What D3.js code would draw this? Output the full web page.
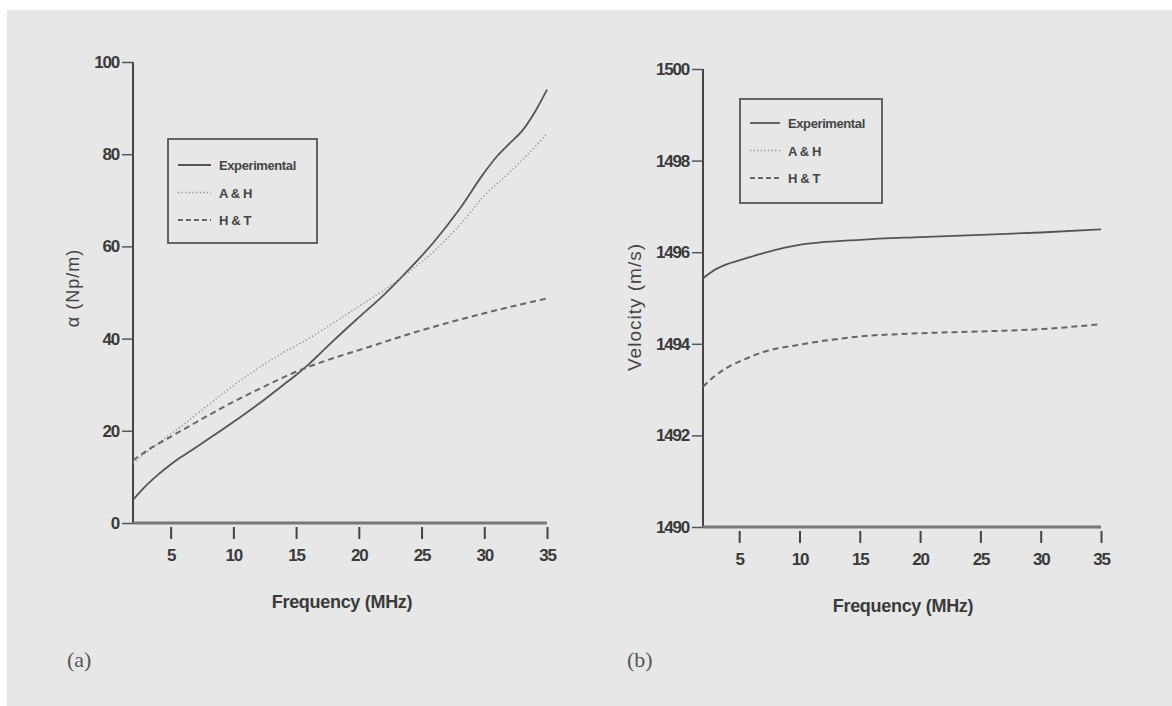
<!DOCTYPE html>
<html>
<head>
<meta charset="utf-8">
<script src="https://cdn.jsdelivr.net/npm/d3@7"></script>
<style>
  body { margin: 0; background: #fff; }
  svg text { font-family: "Liberation Sans", Arial, sans-serif; }
</style>
</head>
<body>
<div id="chart"></div>
<script>
// frequency axis ticks (MHz)
let freqTicks = [5, 10, 15, 20, 25, 30, 35];
let alphaTicks = [0, 20, 40, 60, 80, 100];
let velTicks = [1490, 1492, 1494, 1496, 1498, 1500];
let seriesNames = ["Experimental", "A & H", "H & T"];

// (a) attenuation, Np/m
let alphaFreq = [2, 3, 4, 5, 6, 7, 8, 10, 12, 14, 15, 16, 17, 18, 20, 22, 24, 26, 28, 30, 31, 32, 33, 34, 35];
let alphaExp = [5, 8, 10.5, 12.7, 14.6, 16.4, 18.2, 21.9, 25.8, 30, 32.1, 34.4, 37, 39.6, 44.6, 49.5, 55, 61, 68, 76, 79.5, 82.3, 85, 89, 94];
let ahFreq = [2, 4, 6, 8, 10, 12, 14, 16, 18, 20, 22, 24, 26, 28, 30, 32, 34, 35];
let alphaAH = [13, 17.3, 21.3, 25.6, 29.8, 33.6, 37, 40, 43.5, 47, 50.5, 54.5, 59, 64.5, 71, 76, 81.5, 84.5];
let htFreq = [2, 3, 5, 7, 10, 12, 15, 18, 20, 25, 30, 35];
let alphaHT = [13.6, 15.5, 18.7, 21.8, 26.3, 29, 32.8, 35.8, 37.5, 41.8, 45.5, 48.7];

// (b) velocity, m/s
let velFreq = [2, 3, 4, 5, 7, 10, 15, 20, 25, 30, 35];
let velExp = [1495.43, 1495.62, 1495.74, 1495.82, 1495.98, 1496.16, 1496.27, 1496.33, 1496.38, 1496.43, 1496.5];
let velHT = [1493.06, 1493.3, 1493.48, 1493.61, 1493.82, 1493.98, 1494.16, 1494.23, 1494.27, 1494.32, 1494.43];

let svg = d3.select("#chart")
    .append("svg")
    .attr("width", 1172)
    .attr("height", 706);

svg.append("rect")
    .attr("x", 7).attr("y", 10)
    .attr("width", 1165).attr("height", 696)
    .attr("fill", "#e7e7e7");

let styles = {
    "Experimental": { dash: null, width: 1.8, color: "#555" },
    "A & H": { dash: "1.2,2.4", width: 1.4, color: "#8a8a8a" },
    "H & T": { dash: "6,4", width: 2, color: "#666" }
};

function drawPanel(p) {
    let x = d3.scaleLinear().domain([2, 35]).range([p.left, p.right]);
    let y = d3.scaleLinear().domain(p.yDomain).range([p.bottom, p.top]);

    // y axis
    let yAxis = svg.append("g")
        .attr("transform", `translate(${p.left},0)`)
        .call(d3.axisLeft(y).tickValues(p.yTicks).tickFormat(d3.format("d")).tickSize(11).tickPadding(3));
    yAxis.select(".domain").attr("stroke", "#444").attr("stroke-width", 2)
        .attr("d", `M0,${p.top}V${p.bottom}`);
    yAxis.selectAll(".tick line").attr("stroke", "#555").attr("stroke-width", 1.5);
    yAxis.selectAll("text")
        .attr("fill", "#3a3a3a")
        .style("font-size", "17px")
        .style("font-weight", "bold")
        .style("letter-spacing", "-1.2px");

    // x axis
    let xAxis = svg.append("g")
        .attr("transform", `translate(0,${p.bottom})`)
        .call(d3.axisBottom(x).tickValues(freqTicks).tickSize(16).tickPadding(10));
    xAxis.select(".domain").attr("stroke", "#777").attr("stroke-width", 3)
        .attr("d", `M${p.left},0H${p.right}`);
    xAxis.selectAll(".tick line").attr("stroke", "#444").attr("stroke-width", 2)
        .attr("y1", 4);
    xAxis.selectAll("text")
        .attr("fill", "#3a3a3a")
        .style("font-size", "17px")
        .style("font-weight", "bold")
        .style("letter-spacing", "-1.2px");

    svg.append("text")
        .attr("x", (p.left + p.right) / 2 + p.xLabelShift)
        .attr("y", p.bottom + 85)
        .attr("text-anchor", "middle")
        .attr("fill", "#3a3a3a")
        .style("font-size", "18px")
        .style("font-weight", "bold")
        .style("letter-spacing", "-0.3px")
        .text("Frequency (MHz)");

    svg.append("text")
        .attr("transform", `translate(${p.yLabelX},${p.yLabelY}) rotate(-90)`)
        .attr("text-anchor", "middle")
        .attr("fill", "#444")
        .style("font-size", p.yLabelSize)
        .style("letter-spacing", "1px")
        .text(p.yLabel);

    // curves
    p.series.forEach(s => {
        let st = styles[s.name];
        let line = d3.line()
            .x((d, i) => x(s.x[i]))
            .y(d => y(d))
            .curve(d3.curveMonotoneX);
        svg.append("path")
            .datum(s.y)
            .attr("d", line)
            .attr("fill", "none")
            .attr("stroke", st.color)
            .attr("stroke-width", st.width)
            .attr("stroke-dasharray", st.dash);
    });

    // legend
    let lg = p.legend;
    svg.append("rect")
        .attr("x", lg.x).attr("y", lg.y)
        .attr("width", lg.w).attr("height", lg.h)
        .attr("fill", "none")
        .attr("stroke", "#555")
        .attr("stroke-width", 1.8);
    seriesNames.forEach((n, i) => {
        let st = styles[n];
        let ly = lg.y + lg.first + i * lg.step;
        svg.append("line")
            .attr("x1", lg.x + lg.lineX).attr("x2", lg.x + lg.lineX + lg.lineW)
            .attr("y1", ly).attr("y2", ly)
            .attr("stroke", st.color)
            .attr("stroke-width", st.width)
            .attr("stroke-dasharray", n == "H & T" ? "5,3" : st.dash);
        svg.append("text")
            .attr("x", lg.x + lg.textX)
            .attr("y", ly + 5)
            .attr("fill", "#444")
            .style("font-size", "13px")
            .style("font-weight", "bold")
            .style("letter-spacing", "-0.4px")
            .text(n);
    });

    svg.append("text")
        .attr("x", p.tagX)
        .attr("y", 667)
        .attr("fill", "#555")
        .style("font-family", "'Liberation Serif', 'DejaVu Serif', serif")
        .style("font-size", "22px")
        .text(p.tag);
}

drawPanel({
    left: 133, right: 547, top: 62, bottom: 523,
    yDomain: [0, 100], yTicks: alphaTicks,
    yLabel: "α (Np/m)", yLabelX: 79, yLabelY: 288, yLabelSize: "18px",
    xLabelShift: 2,
    series: [
        { name: "Experimental", x: alphaFreq, y: alphaExp },
        { name: "A & H", x: ahFreq, y: alphaAH },
        { name: "H & T", x: htFreq, y: alphaHT }
    ],
    legend: { x: 168, y: 139, w: 149, h: 104, first: 26, step: 27.5, lineX: 10, lineW: 33, textX: 51 },
    tag: "(a)", tagX: 67
});

drawPanel({
    left: 703, right: 1101, top: 69, bottom: 527,
    yDomain: [1490, 1500], yTicks: velTicks,
    yLabel: "Velocity (m/s)", yLabelX: 641, yLabelY: 307, yLabelSize: "19px",
    xLabelShift: 1,
    series: [
        { name: "Experimental", x: velFreq, y: velExp },
        { name: "H & T", x: velFreq, y: velHT }
    ],
    legend: { x: 740, y: 99, w: 142, h: 104, first: 24, step: 27.5, lineX: 10, lineW: 30, textX: 48 },
    tag: "(b)", tagX: 627
});
</script>
</body>
</html>
